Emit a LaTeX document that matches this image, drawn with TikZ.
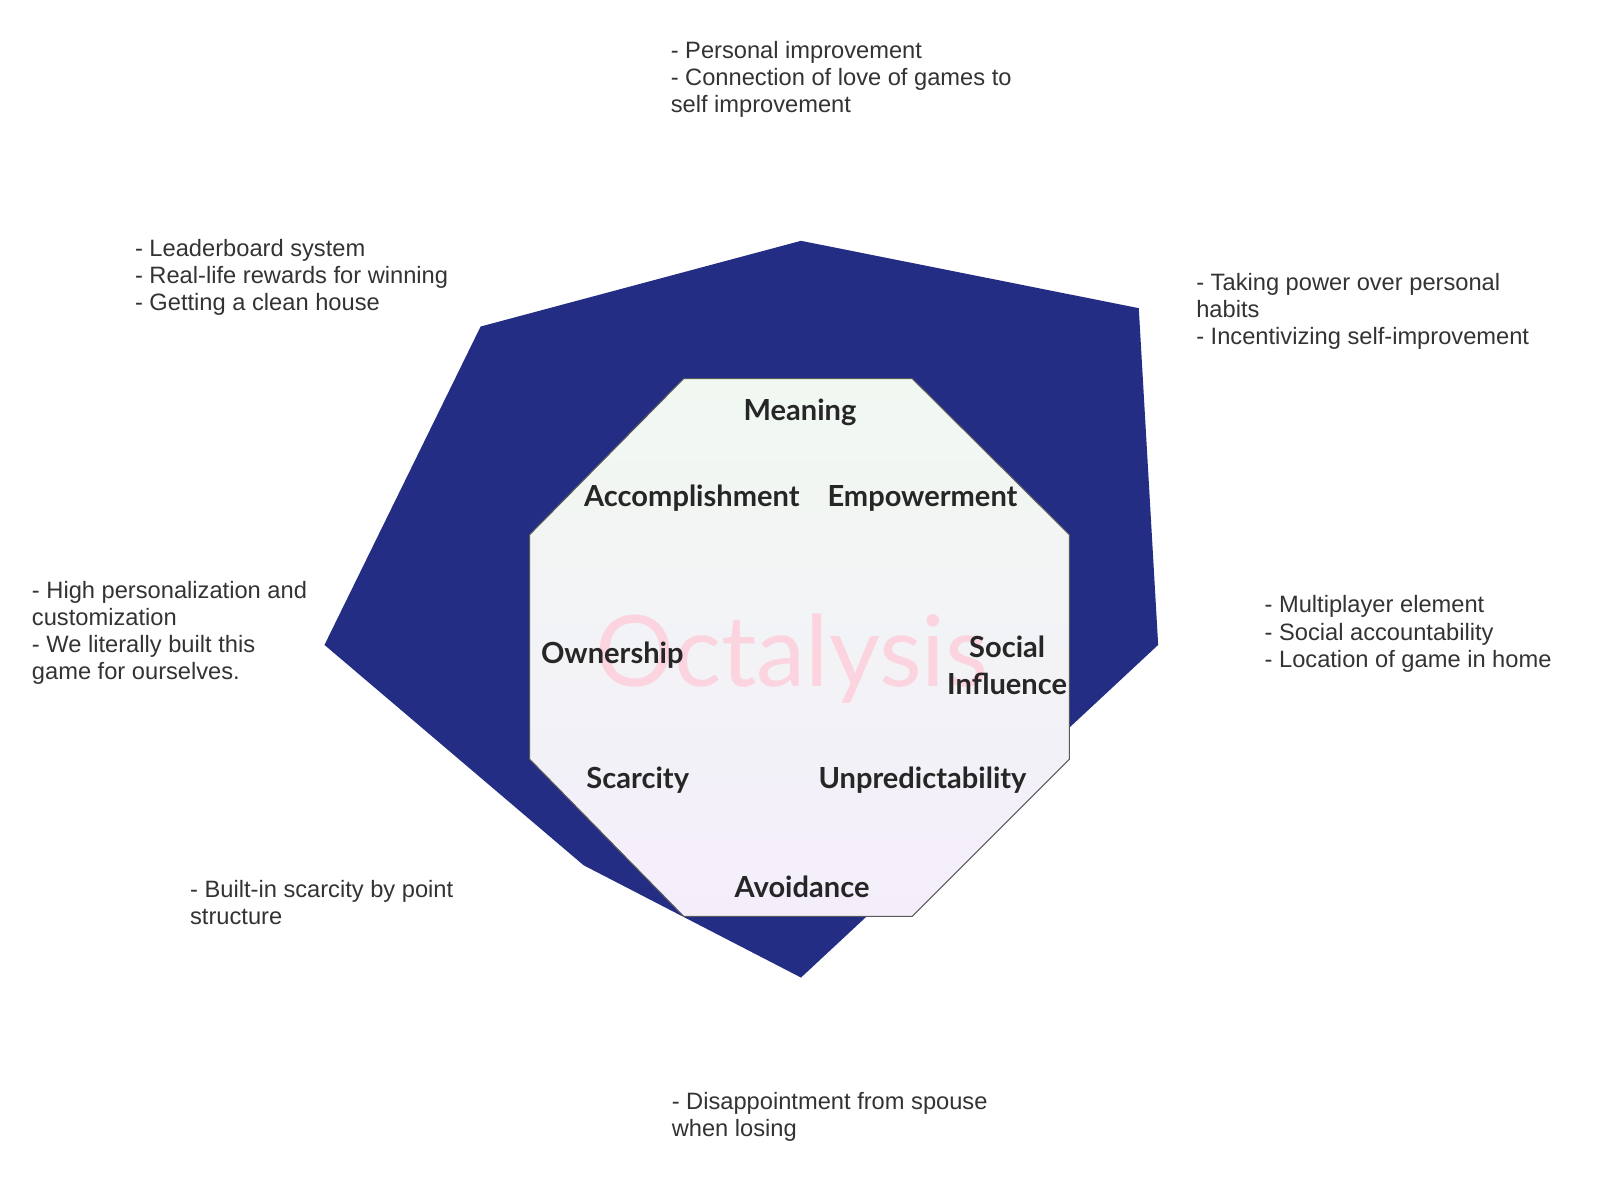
\documentclass[tikz,border=0pt]{standalone}
\usepackage{fontspec}
\setmainfont{Liberation Sans}
\newfontfamily\gillfont{Lato}
\definecolor{octblue}{RGB}{35,45,132}
\definecolor{notegray}{RGB}{51,51,51}
\definecolor{wmpink}{RGB}{251,212,223}
\definecolor{octtop}{RGB}{241,248,241}
\definecolor{octbot}{RGB}{244,238,251}
\tikzset{
  note/.style={anchor=north west, align=left, inner sep=0pt, text=notegray,
    font=\fontsize{13.2}{15.1}\selectfont},
  core/.style={anchor=base, inner sep=0pt, text=black!85,
    font=\gillfont\bfseries\fontsize{16.2}{20.5}\selectfont},
}
\begin{document}
\begin{tikzpicture}[x=0.2mm,y=-0.2mm]
    \useasboundingbox (0,0) rectangle (1568,1158.4);
    % Forma exterioara
    \fill[octblue] (785,236) -- (1116,302) -- (1135,632) -- (785,958)
        -- (572,848) -- (318,632) -- (471,320) -- cycle;
    % Octogonul
    \shade[top color=octtop, bottom color=octbot, draw=black!65, line width=0.6pt]
        (670,371) -- (894,371) -- (1048,524) -- (1048,744) -- (894,898)
        -- (670,898) -- (519,744) -- (519,524) -- cycle;
    % Filigran
    \node[anchor=base, inner sep=0pt, text=wmpink, font=\gillfont\fontsize{55}{55}\selectfont]
        (brand) at (776,673) {Octalysis};
    % Etichete
    \node[core] (meaning) at (784,412) {Meaning};
    \node[core] (accomplish) at (678,496) {Accomplishment};
    \node[core] (empower) at (904,496) {Empowerment};
    \node[core] (owner) at (600,650) {Ownership};
    \node[core, anchor=center, align=center] (social) at (987,652) {Social\\Influence};
    \node[core] (scarcity) at (625,773) {Scarcity};
    \node[core] (unpredict) at (904,773) {Unpredictability};
    \node[core] (avoid) at (786,880) {Avoidance};
    % Note
    \node[note] (meaningnote) at (657,40.5) {- Personal improvement\\- Connection of love of games to\\self improvement};
    \node[note] (accomplishnote) at (132,234.5) {- Leaderboard system\\- Real-life rewards for winning\\- Getting a clean house};
    \node[note] (empowernote) at (1172,267.5) {- Taking power over personal\\habits\\- Incentivizing self-improvement};
    \node[note] (ownernote) at (31,569.5) {- High personalization and\\customization\\- We literally built this\\game for ourselves.};
    \node[note] (socialnote) at (1239,583.5) {- Multiplayer element\\- Social accountability\\- Location of game in home};
    \node[note] (scarcitynote) at (186,862.5) {- Built-in scarcity by point\\structure};
    \node[note] (avoidnote) at (658,1070.5) {- Disappointment from spouse\\when losing};
\end{tikzpicture}
\end{document}
